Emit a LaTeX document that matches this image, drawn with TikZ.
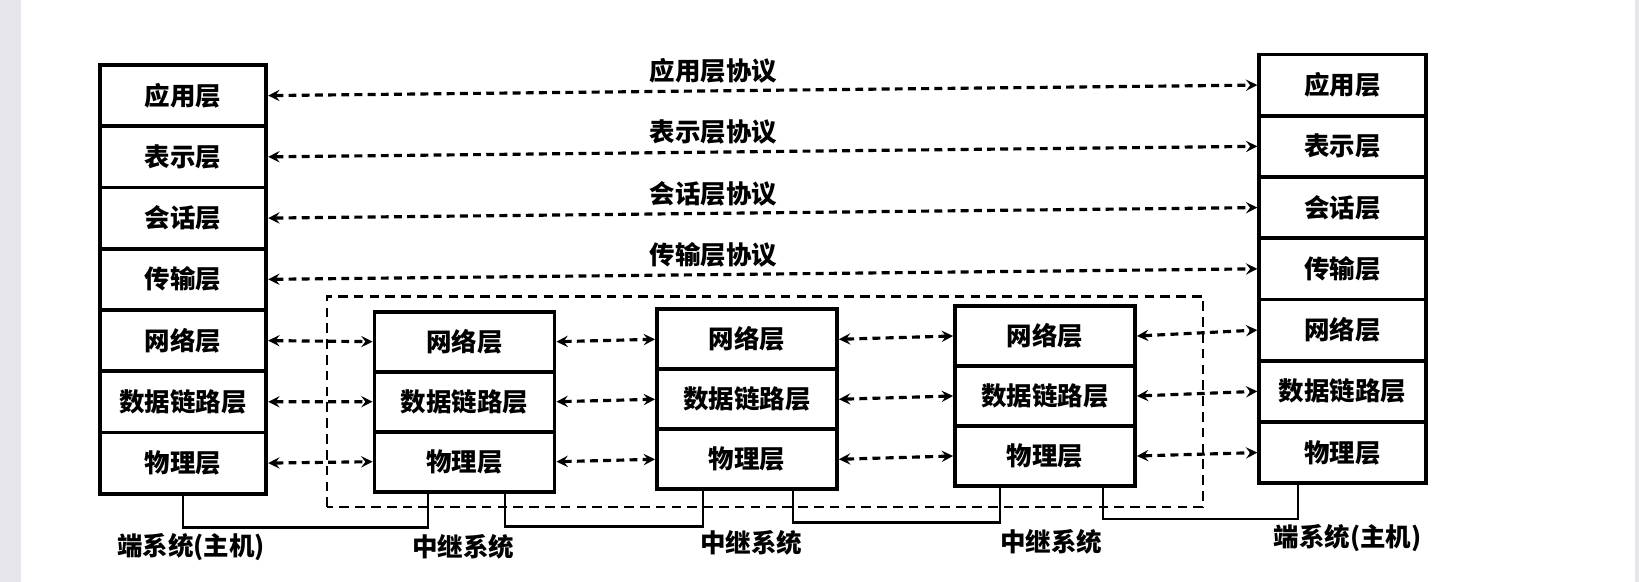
\documentclass[tikz,border=0pt]{standalone}
\usepackage{fontspec}
\newfontfamily\cjk{Noto Sans CJK SC}
\usepackage{tikz}
\usetikzlibrary{arrows,positioning}
\definecolor{pagegray}{RGB}{229,229,234}

\begin{document}
\begin{tikzpicture}[
  layernode/.style={draw, rectangle, line width=2.2pt, minimum width=3.33cm, minimum height=1.225cm, inner sep=0pt, font=\cjk\bfseries\fontsize{14.5}{16}\selectfont},
  relaynode/.style={layernode, minimum width=3.6cm, minimum height=1.2cm},
  protoline/.style={<->, >=stealth, line width=1.8pt, dash pattern=on 4.5pt off 3pt},
  wire/.style={line width=1.6pt},
  syslabel/.style={font=\cjk\bfseries\fontsize{14.5}{16}\selectfont}
]
\useasboundingbox (0,0) rectangle (32.78,11.64);

% page edges of the scan
\fill[pagegray] (0,0) rectangle (0.42,11.64);
\fill[pagegray] (32.70,0) rectangle (32.78,11.64);

% Left end system
\node[layernode] (L1) at (3.66, 9.728) {应用层};
\node[layernode] (L2) at (3.66, 8.503) {表示层};
\node[layernode] (L3) at (3.66, 7.278) {会话层};
\node[layernode] (L4) at (3.66, 6.053) {传输层};
\node[layernode] (L5) at (3.66, 4.828) {网络层};
\node[layernode] (L6) at (3.66, 3.603) {数据链路层};
\node[layernode] (L7) at (3.66, 2.378) {物理层};

% Right end system
\node[layernode] (R1) at (26.85, 9.938) {应用层};
\node[layernode] (R2) at (26.85, 8.713) {表示层};
\node[layernode] (R3) at (26.85, 7.488) {会话层};
\node[layernode] (R4) at (26.85, 6.263) {传输层};
\node[layernode] (R5) at (26.85, 5.038) {网络层};
\node[layernode] (R6) at (26.85, 3.813) {数据链路层};
\node[layernode] (R7) at (26.85, 2.588) {物理层};

% Relay systems
\node[relaynode] (A1) at (9.29, 4.806) {网络层};
\node[relaynode] (A2) at (9.29, 3.606) {数据链路层};
\node[relaynode] (A3) at (9.29, 2.406) {物理层};

\node[relaynode] (B1) at (14.94, 4.854) {网络层};
\node[relaynode] (B2) at (14.94, 3.654) {数据链路层};
\node[relaynode] (B3) at (14.94, 2.454) {物理层};

\node[relaynode] (C1) at (20.90, 4.920) {网络层};
\node[relaynode] (C2) at (20.90, 3.720) {数据链路层};
\node[relaynode] (C3) at (20.90, 2.520) {物理层};

% Subnet boundary
\draw[line width=1.5pt, dash pattern=on 5.5pt off 3.5pt] (6.54,1.50) rectangle (24.06,5.71);

% Peer protocols, end to end
\draw[protoline] (L1.east) -- node[pos=0.45, above, syslabel] (P1) {应用层协议} (R1.west);
\draw[protoline] (L2.east) -- node[pos=0.45, above, syslabel] (P2) {表示层协议} (R2.west);
\draw[protoline] (L3.east) -- node[pos=0.45, above, syslabel] (P3) {会话层协议} (R3.west);
\draw[protoline] (L4.east) -- node[pos=0.45, above, syslabel] (P4) {传输层协议} (R4.west);

% Peer protocols, hop by hop
\draw[protoline] (L5.east) -- (A1.west);
\draw[protoline] (L6.east) -- (A2.west);
\draw[protoline] (L7.east) -- (A3.west);
\draw[protoline] (A1.east) -- (B1.west);
\draw[protoline] (A2.east) -- (B2.west);
\draw[protoline] (A3.east) -- (B3.west);
\draw[protoline] (B1.east) -- (C1.west);
\draw[protoline] (B2.east) -- (C2.west);
\draw[protoline] (B3.east) -- (C3.west);
\draw[protoline] (C1.east) -- (R5.west);
\draw[protoline] (C2.east) -- (R6.west);
\draw[protoline] (C3.east) -- (R7.west);

% Physical links
\draw[wire] (L7.south) -- ++(0,-0.64) -| ([xshift=-0.73cm]A3.south);
\draw[wire] ([xshift=0.81cm]A3.south) -- ++(0,-0.65) -| ([xshift=-0.88cm]B3.south);
\draw[wire] ([xshift=0.92cm]B3.south) -- ++(0,-0.63) -| ([xshift=-0.90cm]C3.south);
\draw[wire] ([xshift=1.16cm]C3.south) -- ++(0,-0.62) -| ([xshift=-0.89cm]R7.south);

% System names
\node[syslabel] (NL) at (3.82, 0.70) {端系统(主机)};
\node[syslabel] (NA) at (9.26, 0.70) {中继系统};
\node[syslabel] (NB) at (15.02, 0.78) {中继系统};
\node[syslabel] (NC) at (21.02, 0.80) {中继系统};
\node[syslabel] (NR) at (26.95, 0.88) {端系统(主机)};
\end{tikzpicture}
\end{document}
